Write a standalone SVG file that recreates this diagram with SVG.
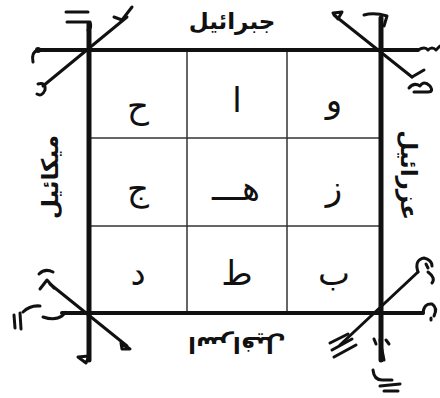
<svg xmlns="http://www.w3.org/2000/svg" width="440" height="398" viewBox="0 0 440 398">
<style>
.frame{stroke:#111;stroke-width:4;stroke-linecap:round;fill:none}
.vframe{stroke:#111;stroke-width:5;stroke-linecap:round;fill:none}
.grid{stroke:#333;stroke-width:1.5;fill:none}
.diag{stroke:#111;stroke-width:3;stroke-linecap:round;fill:none}
.orn{stroke:#111;stroke-width:3;stroke-linecap:round;stroke-linejoin:round;fill:none}
.cell{font-family:"DejaVu Sans",sans-serif;font-size:34px;fill:#111;text-anchor:middle}
.name{font-family:"DejaVu Sans",sans-serif;font-size:23px;font-weight:bold;fill:#111;text-anchor:middle}
</style>
<rect width="440" height="398" fill="#fff"/>
<g id="connectors">
<line class="grid" x1="187" y1="50" x2="187" y2="313"/>
<line class="grid" x1="287" y1="50" x2="287" y2="313"/>
<line class="grid" x1="89" y1="138" x2="381" y2="138"/>
<line class="grid" x1="89" y1="226" x2="381" y2="226"/>
<line class="vframe" x1="89" y1="24" x2="89" y2="360"/>
<line class="vframe" x1="381" y1="18" x2="381" y2="360"/>
<line class="frame" x1="40" y1="50" x2="418" y2="50"/>
<line class="frame" x1="62" y1="313" x2="423" y2="313"/>
<line class="diag" x1="43" y1="86" x2="127" y2="17"/>
<line class="diag" x1="334" y1="15" x2="412" y2="77"/>
<line class="diag" x1="50" y1="284" x2="127" y2="346"/>
<line class="diag" x1="418" y1="272" x2="340" y2="345"/>
</g>
<g id="ornaments">
<path class="orn" d="M66 12 L88 12 M67 22 L90 22 Q92 28 88 30"/>
<path class="orn" d="M38 50 Q31 52 33 62"/>
<circle cx="38" cy="50" r="3" fill="#111"/>
<path class="orn" d="M38 84 Q46 82 45 90 Q42 97 37 94"/>
<path class="orn" d="M114 17 L122 20 L132 7"/>
<path class="orn" d="M364 15 Q374 12 387 16 L384 26"/>
<path class="orn" d="M333 13 L342 12 L338 19 Z" fill="#111"/>
<path class="orn" d="M412 77 L424 70"/>
<path class="orn" d="M418 50 Q425 46 428 50 Q432 46 436 50 L440 46"/>
<path class="orn" d="M409 88 Q414 82 420 86 Q424 80 430 86 Q434 92 428 92 L414 92" stroke-width="2.5"/>
<path class="orn" d="M40 289 L47 280 L54 288"/>
<path class="orn" d="M39 274 Q45 268 53 272"/>
<path class="orn" d="M43 317 Q55 321 62 316 Q68 310 64 314"/>
<path class="orn" d="M14 315 L15 328 M20 313 L21 329 M23 312 Q30 305 40 306"/>
<path class="orn" d="M121 343 L130 349 L122 349 Z" fill="#111"/>
<path class="orn" d="M78 357 L89 356 L86 363 Z" fill="#111"/>
<path class="orn" d="M418 272 Q414 260 424 258 Q432 260 432 266 M426 264 L428 268 M428 272 Q436 278 432 283"/>
<path class="orn" d="M423 313 Q424 303 432 304 Q438 308 434 316 M431 318 L431 320"/>
<path class="orn" d="M330 343 L348 334 M332 350 L352 339 M334 357 L356 345"/>
<path class="orn" d="M380 340 L384 360 M374 339 L376 344 M386 340 L389 344"/>
<path class="orn" d="M373 370 Q374 380 382 380 L392 380 M380 386 L400 384 M384 391 L398 391" stroke-width="2.5"/>
</g>
<g id="cells">
<g id="c11"><text class="cell" x="138" y="118">ح</text></g>
<g id="c12"><text class="cell" x="237" y="112">ا</text></g>
<g id="c13"><text class="cell" x="334" y="112">و</text></g>
<g id="c21"><text class="cell" x="138" y="200">ج</text></g>
<g id="c22"><text class="cell" x="236" y="200">هـــ</text></g>
<g id="c23"><text class="cell" x="334" y="200">ز</text></g>
<g id="c31"><text class="cell" x="138" y="285">د</text></g>
<g id="c32"><text class="cell" x="237" y="285">ط</text></g>
<g id="c33"><text class="cell" x="334" y="285">ب</text></g>
</g>
<g id="names">
<g id="top"><text class="name" x="232" y="29">جبرائیل</text></g>
<g id="left"><text class="name" transform="translate(58,177) rotate(-90)">میکائیل</text></g>
<g id="right"><text class="name" transform="translate(401,175) rotate(90)">عزرائیل</text></g>
<g id="bottom"><text class="name" transform="translate(237,337) rotate(180)">اسرافیل</text></g>
</g>
</svg>
